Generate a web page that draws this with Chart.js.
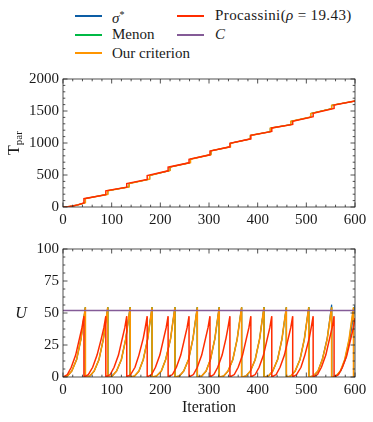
<!DOCTYPE html>
<html><head><meta charset="utf-8">
<script src="https://cdn.jsdelivr.net/npm/chart.js@4/dist/chart.umd.min.js"></script>
<style>
body{margin:0;width:373px;height:422px;background:#fff;position:relative;overflow:hidden;font-family:"Liberation Serif",serif;color:#1a1a1a}
canvas{position:absolute;left:0}
.lg{position:absolute;font-size:15px;line-height:16px;white-space:nowrap}
.sw{position:absolute;height:1.6px;width:27px}
.ttl{position:absolute;font-size:16px;white-space:nowrap;line-height:18px}
sub{font-size:11px;vertical-align:-3px}
sup{font-size:10px;vertical-align:5px}
.m{margin:0 4px}
</style></head><body>

<div class="sw" style="left:75px;top:15px;background:#0C5DA5"></div>
<div class="lg" style="left:112px;top:7px"><i>σ</i><sup>*</sup></div>
<div class="sw" style="left:75px;top:34px;background:#00B945"></div>
<div class="lg" style="left:112px;top:26px">Menon</div>
<div class="sw" style="left:75px;top:52px;background:#FF9500"></div>
<div class="lg" style="left:112px;top:44.5px">Our criterion</div>
<div class="sw" style="left:177px;top:15px;background:#FF2C00"></div>
<div class="lg" style="left:215px;top:7px;letter-spacing:0.4px">Procassini(<i>ρ</i><span class="m">=</span>19.43)</div>
<div class="sw" style="left:177px;top:34px;background:#845B97"></div>
<div class="lg" style="left:215px;top:26px"><i>C</i></div>

<canvas id="top" width="373" height="175" style="top:60px"></canvas>
<canvas id="bot" width="373" height="187" style="top:235px"></canvas>

<div class="ttl" style="left:16px;top:143px;transform:translate(-50%,-50%) rotate(-90deg)">T<sub>par</sub></div>
<div class="ttl" style="left:21px;top:313px;transform:translate(-50%,-50%)"><i>U</i></div>
<div class="ttl" style="left:209px;top:407px;transform:translate(-50%,-50%)">Iteration</div>

<script>
// ---- tick labels ----
const xTicks = [0, 100, 200, 300, 400, 500, 600];
const tTicks = [0, 500, 1000, 1500, 2000];
const uTicks = [0, 25, 50, 75, 100];

// ---- top panel: T_par ----
const procTIter = [0,10,20,30,43, 43,88, 88,131, 131,173, 173,216, 216,259, 259,302, 302,343, 343,386, 386,429, 429,472, 472,514, 514,557, 557,600];
const procT     = [0,4,15,33,63, 130,193, 252,310, 365,430, 490,565, 622,690, 745,815, 875,940, 995,1065, 1120,1180, 1235,1290, 1340,1410, 1463,1540, 1592,1655];
const ourTIter  = [0,10,20,30,46, 46,92, 92,136, 136,178, 178,220, 220,262, 262,304, 304,344, 344,385, 385,426, 426,468, 468,509, 509,552, 552,600];
const ourT      = [0,4,15,32,68, 132,199, 254,314, 367,435, 492,570, 624,694, 747,819, 877,941, 996,1063, 1118,1177, 1232,1287, 1338,1405, 1461,1537, 1589,1655];
const sigmaTIter = ourTIter;
const sigmaT     = ourT;
const menonTIter = ourTIter;
const menonT     = ourT;

// ---- bottom panel: U ----
const procUIter = [
  0,9,17,26,34,39,43,
  43,52,61,70,79,84,88,
  88,97,105,114,122,127,131,
  131,139,148,156,165,169,173,
  173,182,190,199,207,212,216,
  216,225,233,242,250,255,259,
  259,268,276,285,293,298,302,
  302,310,318,327,335,339,343,
  343,352,360,369,377,382,386,
  386,395,403,412,420,425,429,
  429,438,446,455,463,468,472,
  472,480,489,497,506,510,514,
  514,523,531,540,548,553,557,
  557,566,574,583,591,596,600];
const procU = [
  0,1.9,7.6,17.1,30.4,38.5,47.5,
  0,1.9,7.6,17.1,30.4,38.5,47.5,
  0,1.9,7.6,17.1,30.4,38.5,47.5,
  0,1.9,7.6,17.1,30.4,38.5,47.5,
  0,1.9,7.6,17.1,30.4,38.5,47.5,
  0,1.9,7.6,17.1,30.4,38.5,47.5,
  0,1.9,7.6,17.1,30.4,38.5,47.5,
  0,1.9,7.6,17.1,30.4,38.5,47.5,
  0,1.9,7.6,17.1,30.4,38.5,47.5,
  0,1.9,7.6,17.1,30.4,38.5,47.5,
  0,1.9,7.6,17.1,30.4,38.5,47.5,
  0,1.9,7.6,17.1,30.4,38.5,47.5,
  0,1.9,7.6,17.1,30.4,38.5,47.5,
  0,1.8,7.4,16.6,29.5,37.3,46];
const ourUIter = [
  0,9,18,28,37,41,46,
  46,55,64,74,83,87,92,
  92,101,110,120,129,133,138,
  138,147,156,165,174,178,183,
  183,192,202,211,221,225,230,
  230,239,248,258,267,271,276,
  276,285,294,303,312,316,321,
  321,330,339,349,358,362,367,
  367,376,385,395,404,408,413,
  413,422,431,441,450,454,459,
  459,468,477,487,496,500,505,
  505,514,524,533,543,547,552,
  552,561,570,579,588,592,597,
  597,600];
const ourU = [
  0,0.7,4.6,13.7,29.8,41,54.5,
  0,0.7,4.6,13.7,29.8,41,54.5,
  0,0.7,4.6,13.7,29.8,41,54.5,
  0,0.7,4.6,13.7,29.8,41,54.5,
  0,0.7,4.6,13.7,29.8,41,54.5,
  0,0.7,4.6,13.7,29.8,41,54.5,
  0,0.7,4.6,13.7,29.8,41,54.5,
  0,0.7,4.6,13.7,29.8,41,54.5,
  0,0.7,4.6,13.7,29.8,41,54.5,
  0,0.7,4.6,13.7,29.8,41,54.5,
  0,0.7,4.6,13.7,29.8,41,54.5,
  0,0.7,4.6,13.7,29.8,41,54.5,
  0,0.7,4.6,13.7,29.8,41,54.5,
  0,0.1];
const sigmaUIter = [
  0,9,18,28,37,41,46,
  46,55,64,74,83,87,92,
  92,101,110,120,129,133,138,
  138,147,156,165,174,178,183,
  183,192,202,211,221,225,230,
  230,239,248,258,267,271,276,
  276,285,294,303,312,316,321,
  321,330,339,349,358,362,367,
  367,376,385,395,404,408,413,
  413,422,431,441,450,454,459,
  459,468,477,487,496,500,505,
  505,514,524,533,543,547,552,
  552,562,571,581,590,595,600];
const sigmaU = [
  0,0.7,4.6,13.7,29.8,41,54.5,
  0,0.7,4.6,13.7,29.8,41,54.5,
  0,0.7,4.6,13.7,29.8,41,54.5,
  0,0.7,4.6,13.7,29.8,41,54.5,
  0,0.7,4.6,13.7,29.8,41,54.5,
  0,0.7,4.6,13.7,29.8,41,54.5,
  0,0.7,4.6,13.7,29.8,41,54.5,
  0,0.7,4.6,13.7,29.8,41,54.5,
  0,0.7,4.6,13.7,29.8,41,54.5,
  0,0.7,4.6,13.7,29.8,41,54.5,
  0,0.7,4.6,13.7,29.8,41,54.5,
  0,0.7,4.6,14,30.5,42,56.5,
  0,0.8,5,14.5,31,43,56];
const menonUIter = ourUIter;
const menonU     = ourU;
const cIter = [0, 600];
const cU    = [52, 52];

const COL = {sigma: '#0C5DA5', menon: '#00B945', our: '#FF9500', proc: '#FF2C00', c: '#845B97'};
const FONT = {family: '"Liberation Serif", serif', size: 15};

function pts(xs, ys) { return xs.map((x, i) => ({x: x, y: ys[i]})); }
function ds(label, xs, ys, color, order, w) {
  return {label, data: pts(xs, ys), borderColor: color, borderWidth: w || 1.5, pointRadius: 0,
          fill: false, tension: 0, order};
}

const frameTicks = {
  id: 'frameTicks',
  afterDatasetsDraw(chart, args, o) {
    const {ctx, chartArea: a, scales: {x, y}} = chart;
    ctx.save();
    ctx.strokeStyle = '#262626';
    ctx.lineWidth = 0.8;
    ctx.beginPath();
    const seg = (x1, y1, x2, y2) => { ctx.moveTo(x1, y1); ctx.lineTo(x2, y2); };
    for (let v = x.min; v <= x.max + 1e-9; v += o.minorX) {
      const p = x.getPixelForValue(v);
      const L = (Math.abs(v / o.majorX - Math.round(v / o.majorX)) < 1e-6) ? 4.5 : 2.3;
      seg(p, a.bottom, p, a.bottom - L); seg(p, a.top, p, a.top + L);
    }
    for (let v = y.min; v <= y.max + 1e-9; v += o.minorY) {
      const p = y.getPixelForValue(v);
      const L = (Math.abs(v / o.majorY - Math.round(v / o.majorY)) < 1e-6) ? 4.5 : 2.3;
      seg(a.left, p, a.left + L, p); seg(a.right, p, a.right - L, p);
    }
    ctx.stroke();
    ctx.strokeRect(a.left, a.top, a.right - a.left, a.bottom - a.top);
    ctx.restore();
  }
};

function makeChart(id, datasets, yTicks, yMinor, padTop, xAxisH) {
  return new Chart(document.getElementById(id), {
    type: 'line',
    data: {datasets},
    options: {
      responsive: false, animation: false, devicePixelRatio: 1,
      layout: {padding: {top: padTop, right: 18, left: 0, bottom: 0}},
      plugins: {legend: {display: false}, tooltip: {enabled: false},
        frameTicks: {minorX: 20, majorX: 100, minorY: yMinor, majorY: yTicks[1] - yTicks[0]}},
      scales: {
        x: {type: 'linear', min: xTicks[0], max: xTicks[xTicks.length - 1],
            grid: {display: false, drawTicks: false}, border: {display: false},
            afterBuildTicks: s => { s.ticks = xTicks.map(v => ({value: v})); },
            ticks: {font: FONT, color: '#1a1a1a', padding: 4, maxRotation: 0, autoSkip: false,
                    callback: v => String(v)},
            afterFit: s => { s.height = xAxisH; }},
        y: {type: 'linear', min: yTicks[0], max: yTicks[yTicks.length - 1],
            grid: {display: false, drawTicks: false}, border: {display: false},
            afterBuildTicks: s => { s.ticks = yTicks.map(v => ({value: v})); },
            ticks: {font: FONT, color: '#1a1a1a', padding: 4, autoSkip: false,
                    callback: v => String(v)},
            afterFit: s => { s.width = 63; }}
      }
    },
    plugins: [frameTicks]
  });
}

makeChart('top', [
  ds('σ*', sigmaTIter, sigmaT, COL.sigma, 5, 1),
  ds('Menon', menonTIter, menonT, COL.menon, 4, 1),
  ds('Our criterion', ourTIter, ourT, COL.our, 3),
  ds('Procassini(ρ = 19.43)', procTIter, procT, COL.proc, 2)
], tTicks, 100, 19, 28);

makeChart('bot', [
  ds('σ*', sigmaUIter, sigmaU, COL.sigma, 5, 1.2),
  ds('Menon', menonUIter, menonU, COL.menon, 4, 0.8),
  ds('Our criterion', ourUIter, ourU, COL.our, 3, 1.6),
  ds('Procassini(ρ = 19.43)', procUIter, procU, COL.proc, 2),
  ds('C', cIter, cU, COL.c, 1)
], uTicks, 6.25, 14, 45);
</script>
</body></html>
